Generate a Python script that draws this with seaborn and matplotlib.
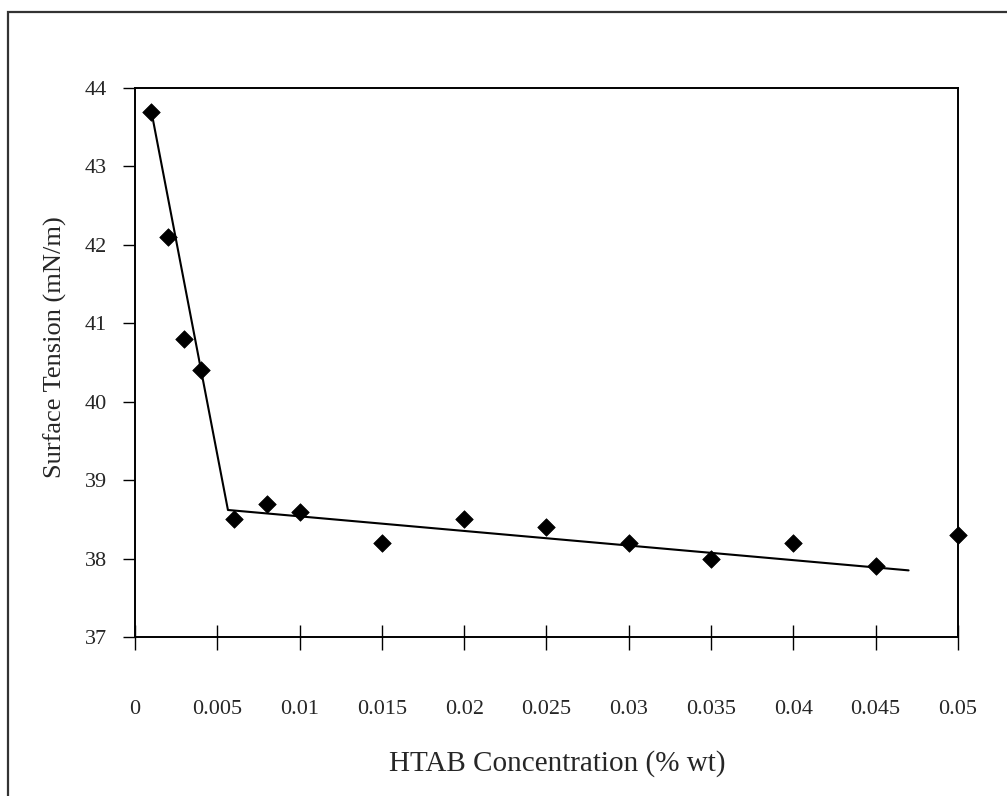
import matplotlib
matplotlib.use("Agg")
import matplotlib.pyplot as plt
import seaborn as sns
import pandas as pd
from matplotlib.patches import Rectangle

# Measured surface tension of HTAB solutions
concentration = [0.001, 0.002, 0.003, 0.004, 0.006, 0.008, 0.010, 0.015,
                 0.020, 0.025, 0.030, 0.035, 0.040, 0.045, 0.050]
tension = [43.7, 42.1, 40.8, 40.4, 38.5, 38.7, 38.6, 38.2,
           38.5, 38.4, 38.2, 38.0, 38.2, 37.9, 38.3]

# Two-segment trend line (break point near the CMC)
trend_x = [0.001, 0.00565, 0.047]
trend_y = [43.7, 38.62, 37.85]

x_ticks = [0, 0.005, 0.01, 0.015, 0.02, 0.025, 0.03, 0.035, 0.04, 0.045, 0.05]
x_tick_labels = ["0", "0.005", "0.01", "0.015", "0.02", "0.025", "0.03",
                 "0.035", "0.04", "0.045", "0.05"]
y_ticks = [37, 38, 39, 40, 41, 42, 43, 44]

sns.set_theme(style="white")
plt.rcParams["font.family"] = ["Liberation Serif", "DejaVu Serif"]

df = pd.DataFrame({"conc": concentration, "st": tension})
trend = pd.DataFrame({"conc": trend_x, "st": trend_y})

fig = plt.figure(figsize=(10.07, 7.96), dpi=100)
ax = fig.add_axes([0.134, 0.1997, 0.8173, 0.6897])

sns.lineplot(data=trend, x="conc", y="st", ax=ax, sort=False,
             color="black", linewidth=1.5, zorder=2)
sns.scatterplot(data=df, x="conc", y="st", ax=ax, marker="D", s=80,
                color="black", edgecolor="black", linewidth=0.5,
                zorder=3, clip_on=False)

ax.set_xlim(0, 0.05)
ax.set_ylim(37, 44)
ax.set_xticks(x_ticks)
ax.set_xticklabels(x_tick_labels)
ax.set_yticks(y_ticks)

for side in ["left", "right", "top", "bottom"]:
    ax.spines[side].set_visible(True)
    ax.spines[side].set_color("black")
    ax.spines[side].set_linewidth(1.4)

ax.tick_params(axis="x", direction="inout", length=18, width=1.0,
               color="black", pad=36, labelsize=16, bottom=True)
ax.tick_params(axis="y", direction="out", length=9, width=1.0,
               color="black", pad=11, labelsize=16, left=True)

ax.set_xlabel("HTAB Concentration (% wt)", fontsize=21)
ax.set_ylabel("Surface Tension (mN/m)", fontsize=19)
ax.xaxis.set_label_coords(0.513, -0.205)
ax.yaxis.set_label_coords(-0.082, 0.528)

# Outer chart-area frame
fig.patches.append(Rectangle((8 / 1007, -0.05), 1.2, 1 - 12 / 796 + 0.05,
                             transform=fig.transFigure, fill=False,
                             edgecolor="#333333", linewidth=1.6))

fig.savefig("out.png", dpi=100, facecolor="white")
